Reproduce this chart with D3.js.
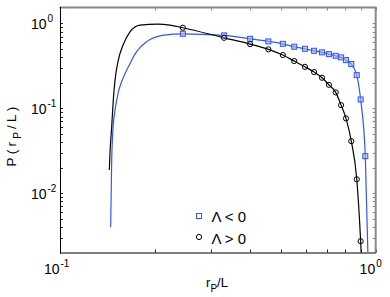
<!DOCTYPE html>
<html lang="en">
<head>
<meta charset="utf-8" />
<title>P(rP/L)</title>
<script src="https://d3js.org/d3.v7.min.js"></script>
<style>
  body { margin: 0; background: #fff; }
  svg { display: block; font-family: "Liberation Sans", Arial, sans-serif; }
</style>
</head>
<body>
<svg width="390" height="297"></svg>
<script>
// marker positions (r_P / L), shared by both series
const markerR = [0.245, 0.331, 0.4, 0.457, 0.508, 0.552, 0.597, 0.638, 0.676, 0.711, 0.747, 0.777, 0.805, 0.837, 0.871, 0.896, 0.927];

// Lambda < 0 (blue squares)
const negMarkerP = [0.755, 0.723, 0.659, 0.614, 0.575, 0.531, 0.503, 0.476, 0.456, 0.435, 0.416, 0.398, 0.370, 0.332, 0.246, 0.127, 0.0273];
// Lambda > 0 (black circles), one fewer point
const posMarkerP = [0.889, 0.677, 0.571, 0.495, 0.424, 0.360, 0.308, 0.267, 0.229, 0.189, 0.154, 0.109, 0.076, 0.041, 0.0146, 0.00272];

// solid curves: rising part before the first marker, and tail after the last one
const negRiseR = [0.1447, 0.1458, 0.1469, 0.1494, 0.1530, 0.1566, 0.1607, 0.1666, 0.1728, 0.1792, 0.1859, 0.1928, 0.2135];
const negRiseP = [0.0040, 0.0245, 0.051, 0.095, 0.155, 0.204, 0.256, 0.336, 0.435, 0.519, 0.587, 0.645, 0.729];
const negTailR = [0.948];
const negTailP = [0.0012];

const posRiseR = [0.1433, 0.1440, 0.1458, 0.1475, 0.1494, 0.1530, 0.1584, 0.1666, 0.1792, 0.2043, 0.223];
const posRiseP = [0.0187, 0.0297, 0.0605, 0.125, 0.215, 0.370, 0.556, 0.797, 0.956, 0.982, 0.955];
const posTailR = [0.905];
const posTailP = [0.0012];

const xMajor = [0.1, 1];
const xMinor = [0.2, 0.3, 0.4, 0.5, 0.6, 0.7, 0.8, 0.9];
const yMajor = [0.01, 0.1, 1];
const yMinor = [0.003, 0.004, 0.005, 0.006, 0.007, 0.008, 0.009,
                0.02, 0.03, 0.04, 0.05, 0.06, 0.07, 0.08, 0.09,
                0.2, 0.3, 0.4, 0.5, 0.6, 0.7, 0.8, 0.9];

const blue = "#3355f2";

const L = 60, R = 375.7, T = 7.5, B = 252.5;

const svg = d3.select("svg");

const x = d3.scaleLog().domain([0.1, 1]).range([L, R]);
const y = d3.scaleLog().domain([0.002, 1.54]).range([B, T]);

svg.append("defs").append("clipPath").attr("id", "plot")
  .append("rect").attr("x", L).attr("y", T).attr("width", R - L).attr("height", B - T);

// ticks (inward, on all four sides)
const tl = 3;
const tickG = svg.append("g").attr("stroke", "#222").attr("stroke-width", 1);
xMajor.concat(xMinor).forEach(v => {
  const px = Math.round(x(v)) + 0.5;
  tickG.append("line").attr("x1", px).attr("x2", px).attr("y1", B).attr("y2", B - tl);
  tickG.append("line").attr("x1", px).attr("x2", px).attr("y1", T).attr("y2", T + tl).attr("stroke", "#888");
});
yMajor.concat(yMinor).forEach(v => {
  const py = Math.round(y(v)) + 0.5;
  tickG.append("line").attr("x1", L).attr("x2", L + tl).attr("y1", py).attr("y2", py);
  tickG.append("line").attr("x1", R).attr("x2", R - tl).attr("y1", py).attr("y2", py).attr("stroke", "#888");
});

// frame
svg.append("line").attr("x1", L - 0.5).attr("x2", R + 1).attr("y1", T).attr("y2", T)
  .attr("stroke", "#888").attr("stroke-width", 2);
svg.append("line").attr("x1", R).attr("x2", R).attr("y1", T).attr("y2", B + 0.5)
  .attr("stroke", "#888").attr("stroke-width", 2);
svg.append("line").attr("x1", L + 0.5).attr("x2", L + 0.5).attr("y1", T - 0.5).attr("y2", B + 1)
  .attr("stroke", "#000").attr("stroke-width", 1);
svg.append("line").attr("x1", L).attr("x2", R).attr("y1", B + 0.5).attr("y2", B + 0.5)
  .attr("stroke", "#000").attr("stroke-width", 1);

// tick labels
const exps = { 0.01: "-2", 0.1: "-1", 1: "0" };
yMajor.forEach(v => {
  const py = y(v);
  svg.append("text").attr("x", 46.5).attr("y", py + 6).attr("text-anchor", "end")
    .attr("font-size", 14).text("10");
  svg.append("text").attr("x", 47.5).attr("y", py - 1.5)
    .attr("font-size", 10).text(exps[v]);
});
xMajor.forEach(v => {
  const px = x(v);
  svg.append("text").attr("x", px - 0.5).attr("y", 274).attr("text-anchor", "end")
    .attr("font-size", 14).text("10");
  svg.append("text").attr("x", px + 0.5).attr("y", 266.5)
    .attr("font-size", 10).text(exps[v]);
});

// axis labels
const xl = svg.append("text").attr("x", 217).attr("y", 287).attr("text-anchor", "middle").attr("font-size", 13);
xl.append("tspan").text("r");
xl.append("tspan").attr("dy", 5).attr("font-size", 10).text("P");
xl.append("tspan").attr("dy", -5).text("/L");

const yl = svg.append("text").attr("transform", "translate(15.5,135) rotate(-90)")
  .attr("text-anchor", "middle").attr("font-size", 13.5).attr("letter-spacing", 3.2);
yl.append("tspan").text("P(r");
yl.append("tspan").attr("dy", 5).attr("font-size", 10).text("P");
yl.append("tspan").attr("dy", -5).text("/L)");

// curves
const line = d3.line().x(d => x(d[0])).y(d => y(d[1])).curve(d3.curveMonotoneX);
const zip = (a, b) => a.map((v, i) => [v, b[i]]);

const negMarkers = zip(markerR, negMarkerP);
const posMarkers = zip(markerR.slice(0, posMarkerP.length), posMarkerP);

const negLine = zip(negRiseR, negRiseP).concat(negMarkers, zip(negTailR, negTailP));
const posLine = zip(posRiseR, posRiseP).concat(posMarkers, zip(posTailR, posTailP));

const plot = svg.append("g").attr("clip-path", "url(#plot)");

plot.append("path").datum(negLine).attr("d", line)
  .attr("fill", "none").attr("stroke", blue).attr("stroke-width", 1.2);
plot.append("path").datum(posLine).attr("d", line)
  .attr("fill", "none").attr("stroke", "#000").attr("stroke-width", 1.2);

plot.selectAll("rect.sq").data(negMarkers).enter().append("rect")
  .attr("class", "sq")
  .attr("x", d => x(d[0]) - 2.5).attr("y", d => y(d[1]) - 2.5)
  .attr("width", 5).attr("height", 5)
  .attr("fill", "#9fb0ff").attr("fill-opacity", 0.6).attr("stroke", blue).attr("stroke-width", 1);

plot.selectAll("circle.ci").data(posMarkers).enter().append("circle")
  .attr("class", "ci")
  .attr("cx", d => x(d[0])).attr("cy", d => y(d[1])).attr("r", 2.6)
  .attr("fill", "none").attr("stroke", "#000").attr("stroke-width", 1);

// legend
const lg = svg.append("g");
lg.append("rect").attr("x", 196.5).attr("y", 213.5).attr("width", 5).attr("height", 5)
  .attr("fill", "#fff").attr("stroke", blue).attr("stroke-width", 1);
lg.append("text").attr("x", 211.5).attr("y", 222).attr("font-size", 15).text("\u039B < 0");
lg.append("circle").attr("cx", 199).attr("cy", 237).attr("r", 2.6)
  .attr("fill", "none").attr("stroke", "#000").attr("stroke-width", 1);
lg.append("text").attr("x", 211.5).attr("y", 243.5).attr("font-size", 15).text("\u039B > 0");
</script>
</body>
</html>
